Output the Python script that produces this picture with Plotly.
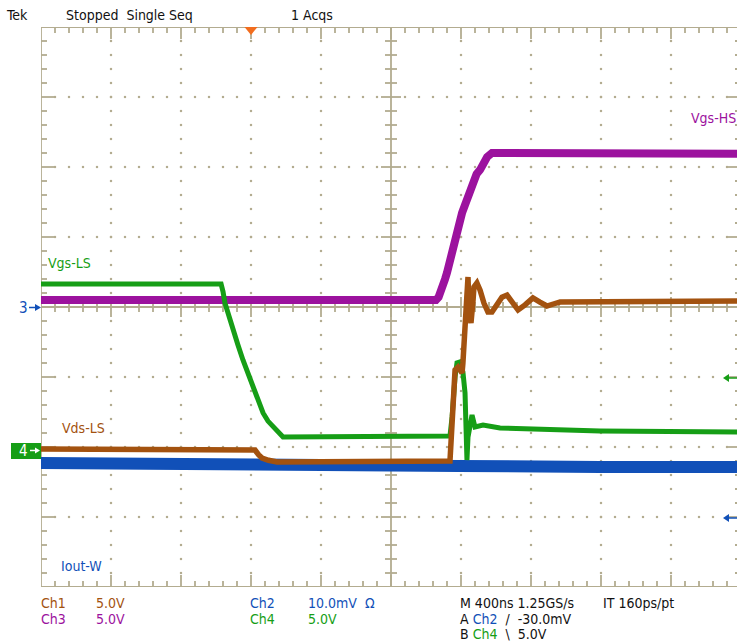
import plotly.graph_objects as go

W, H = 737, 644

# Screen geometry of the scope graticule (pixels)
GX_LEFT, GX_RIGHT = 41, 741
GY_TOP, GY_BOT = 27, 587
NS_PER_DIV = 400
TRIG_NS_AT_LEFT = -1200          # trigger sits 3 divisions from the left edge

# ---- waveform data: time in ns (trigger at 0), amplitude in screen divisions ----
ch3_t = [-1200, 1057, 1072, 1086, 1097, 1109, 1120, 1137, 1154, 1166, 1177, 1191, 1206, 1223, 1240, 1254,
         1269, 1289, 1309, 1329, 1349, 1377, 1400, 1423, 2800]
ch3_v = [0.10, 0.10, 0.14, 0.22, 0.30, 0.40, 0.49, 0.671, 0.857, 0.98, 1.10, 1.22, 1.343, 1.46, 1.571, 1.70,
         1.814, 1.90, 1.96, 2.06, 2.143, 2.20, 2.21, 2.20, 2.19]

ch4_t = [-1200, -171, -160, -149, -126, -103, -75, -46, -17, 11, 40, 69, 97, 126, 154, 183, 1137, 1149,
         1166, 1177, 1194, 1211, 1223, 1234, 1240, 1263, 1280, 1326, 1423, 1994, 2800]
ch4_v = [0.33, 0.33, 0.22, 0.057, -0.13, -0.329, -0.54, -0.757, -0.95, -1.143, -1.33, -1.514, -1.63, -1.714,
         -1.80, -1.857, -1.843, -1.571, -1.0, -0.8, -0.786, -0.929, -1.229, -2.186, -1.857, -1.543, -1.714,
         -1.686, -1.729, -1.771, -1.786]

ch1_t = [-1200, 23, 43, 63, 100, 149, 1137, 1149, 1166, 1183, 1206, 1211, 1223, 1234, 1240, 1246, 1257, 1269,
         1274, 1291, 1309, 1331, 1354, 1377, 1406, 1434, 1463, 1491, 1526, 1566, 1611, 1651, 1691, 1737,
         1766, 2800]
ch1_v = [-2.03, -2.043, -2.11, -2.157, -2.19, -2.214, -2.20, -1.714, -0.9, -0.857, -0.943, -0.8, -0.286,
         0.386, 0.429, -0.043, -0.229, 0.10, 0.286, 0.343, 0.24, 0.057, -0.071, -0.071, 0.03, 0.14, 0.171,
         0.07, -0.043, 0.03, 0.129, 0.07, 0.014, 0.05, 0.071, 0.086]

ch2_t = [-1200, 1137, 1183, 1994, 2800]
ch2_v = [-2.23, -2.23, -2.271, -2.286, -2.286]

TAN = "#b3ac90"
C_CH1 = "#a3520f"
C_CH2 = "#1150b8"
C_CH3 = "#9c129e"
C_CH4 = "#169e16"

x_range = [TRIG_NS_AT_LEFT, TRIG_NS_AT_LEFT + (W - GX_LEFT) / 70 * NS_PER_DIV]
x_center = TRIG_NS_AT_LEFT + 5 * NS_PER_DIV
x_right = TRIG_NS_AT_LEFT + 10 * NS_PER_DIV
ns_per_px = NS_PER_DIV / 70
div_per_px = 1 / 70

fig = go.Figure()

# ---- graticule ----
dots_x, dots_y = [], []
for i in range(1, 10):
    xv = TRIG_NS_AT_LEFT + i * NS_PER_DIV
    if i == 5:
        continue
    for k in range(1, 40):
        dots_x.append(xv)
        dots_y.append(-4 + k * 0.2)
for j in range(-3, 4):
    if j == 0:
        continue
    for k in range(1, 50):
        dots_x.append(TRIG_NS_AT_LEFT + k * NS_PER_DIV / 5)
        dots_y.append(j)
fig.add_trace(go.Scatter(x=dots_x, y=dots_y, mode="markers", hoverinfo="skip",
                         marker=dict(size=2.2, color=TAN, symbol="square"), showlegend=False))

seg_x, seg_y = [], []


def seg(x0, y0, x1, y1):
    seg_x.extend([x0, x1, None])
    seg_y.extend([y0, y1, None])


# frame
seg(TRIG_NS_AT_LEFT, -4, TRIG_NS_AT_LEFT, 4)
seg(TRIG_NS_AT_LEFT, 4, x_right, 4)
seg(TRIG_NS_AT_LEFT, -4, x_right, -4)
seg(x_right, -4, x_right, 4)
# centre axes
seg(TRIG_NS_AT_LEFT, 0, x_right, 0)
seg(x_center, -4, x_center, 4)

for k in range(1, 50):
    xv = TRIG_NS_AT_LEFT + k * NS_PER_DIV / 5
    major = k % 5 == 0
    L = (12 if major else 6) * div_per_px
    seg(xv, 4, xv, 4 - L)
    seg(xv, -4, xv, -4 + L)
    c = (10 if major else 5) * div_per_px
    seg(xv, -c, xv, c)
for k in range(1, 40):
    yv = -4 + k * 0.2
    major = k % 5 == 0
    L = (13 if major else 6) * ns_per_px
    seg(TRIG_NS_AT_LEFT, yv, TRIG_NS_AT_LEFT + L, yv)
    seg(x_right, yv, x_right - L, yv)
    c = (10 if major else 6) * ns_per_px
    seg(x_center - c, yv, x_center + c, yv)

fig.add_trace(go.Scatter(x=seg_x, y=seg_y, mode="lines", hoverinfo="skip",
                         line=dict(color=TAN, width=1.8), showlegend=False))

# ---- waveforms ----
fig.add_trace(go.Scatter(x=ch3_t, y=ch3_v, mode="lines", name="Ch3 Vgs-HS",
                         line=dict(color=C_CH3, width=8), showlegend=False))
fig.add_trace(go.Scatter(x=ch2_t, y=ch2_v, mode="lines", name="Ch2 Iout-W",
                         line=dict(color=C_CH2, width=12), showlegend=False))
fig.add_trace(go.Scatter(x=ch4_t, y=ch4_v, mode="lines", name="Ch4 Vgs-LS",
                         line=dict(color=C_CH4, width=5), showlegend=False))
fig.add_trace(go.Scatter(x=ch1_t, y=ch1_v, mode="lines", name="Ch1 Vds-LS",
                         line=dict(color=C_CH1, width=5.5), showlegend=False))


def px(x):
    return x / W


def py(y):
    return 1 - y / H


FONT = "Liberation Sans Narrow, DejaVu Sans Condensed, Arial Narrow, sans-serif"
annotations = []


def text(x, y, s, color, size=14, anchor="left"):
    annotations.append(dict(x=px(x), y=py(y), xref="paper", yref="paper", text=s, showarrow=False,
                            xanchor=anchor, yanchor="middle",
                            font=dict(family=FONT, size=size, color=color)))


# header
text(4, 15, "Tek", "#111")
text(64, 15, "Stopped&nbsp;&nbsp;Single Seq", "#111")
text(289, 15, "1 Acqs", "#111")

# trace labels
text(46, 263, "Vgs-LS", C_CH4)
text(60, 428, "Vds-LS", C_CH1)
text(59, 566, "Iout-W", C_CH2)
text(689, 118, "Vgs-HS", C_CH3)

# channel readouts
text(39, 603, "Ch1", C_CH1)
text(94, 603, "5.0V", C_CH1)
text(39, 619, "Ch3", C_CH3)
text(94, 619, "5.0V", C_CH3)
text(248, 603, "Ch2", C_CH2)
text(306, 603, "10.0mV&nbsp;&nbsp;Ω", C_CH2)
text(248, 619, "Ch4", C_CH4)
text(306, 619, "5.0V", C_CH4)
text(458, 603, "M 400ns 1.25GS/s", "#111")
text(601, 603, "IT 160ps/pt", "#111")
text(458, 619, "A <span style='color:%s'>Ch2</span>&nbsp;&nbsp;/&nbsp;&nbsp;-30.0mV" % C_CH2, "#111")
text(458, 634, "B <span style='color:%s'>Ch4</span>&nbsp;&nbsp;\\&nbsp;&nbsp;5.0V" % C_CH4, "#111")

# ground markers on the left edge
text(23, 308, "3", C_CH2, size=15, anchor="center")
text(23, 451, "4", "white", size=15, anchor="center")

shapes = [
    dict(type="rect", xref="paper", yref="paper", x0=px(11), x1=px(41), y0=py(443), y1=py(459),
         fillcolor=C_CH4, line=dict(width=0), layer="below"),
    # ch3 marker arrow
    dict(type="line", xref="paper", yref="paper", x0=px(29), x1=px(37), y0=py(307.5), y1=py(307.5),
         line=dict(color=C_CH2, width=1.5)),
    dict(type="path", xref="paper", yref="paper",
         path="M %f,%f L %f,%f L %f,%f Z" % (px(35), py(304), px(41), py(307.5), px(35), py(311)),
         fillcolor=C_CH2, line=dict(width=0)),
    # ch4 marker arrow
    dict(type="line", xref="paper", yref="paper", x0=px(30), x1=px(37), y0=py(450.5), y1=py(450.5),
         line=dict(color="white", width=1.5)),
    dict(type="path", xref="paper", yref="paper",
         path="M %f,%f L %f,%f L %f,%f Z" % (px(35), py(447.5), px(40), py(450.5), px(35), py(453.5)),
         fillcolor="white", line=dict(width=0)),
    # trigger position marker
    dict(type="path", xref="paper", yref="paper",
         path="M %f,%f L %f,%f L %f,%f Z" % (px(244.5), py(27), px(257.5), py(27), px(251), py(35)),
         fillcolor="#f26d1e", line=dict(width=0)),
]

# trigger level arrows on the right edge
for yy, col in [(378, C_CH4), (518, C_CH2)]:
    shapes.append(dict(type="line", xref="paper", yref="paper", x0=px(727), x1=px(737), y0=py(yy), y1=py(yy),
                       line=dict(color=col, width=1.5)))
    shapes.append(dict(type="path", xref="paper", yref="paper",
                       path="M %f,%f L %f,%f L %f,%f Z" % (px(729), py(yy - 4), px(723), py(yy),
                                                         px(729), py(yy + 4)),
                       fillcolor=col, line=dict(width=0)))

fig.update_layout(
    width=W, height=H,
    margin=dict(l=0, r=0, t=0, b=0),
    paper_bgcolor="white", plot_bgcolor="white",
    xaxis=dict(domain=[GX_LEFT / W, 1], range=x_range, visible=False, fixedrange=True),
    yaxis=dict(domain=[1 - GY_BOT / H, 1 - GY_TOP / H], range=[-4, 4], visible=False, fixedrange=True),
    annotations=annotations,
    shapes=shapes,
    showlegend=False,
)

fig.write_html("out.html")
